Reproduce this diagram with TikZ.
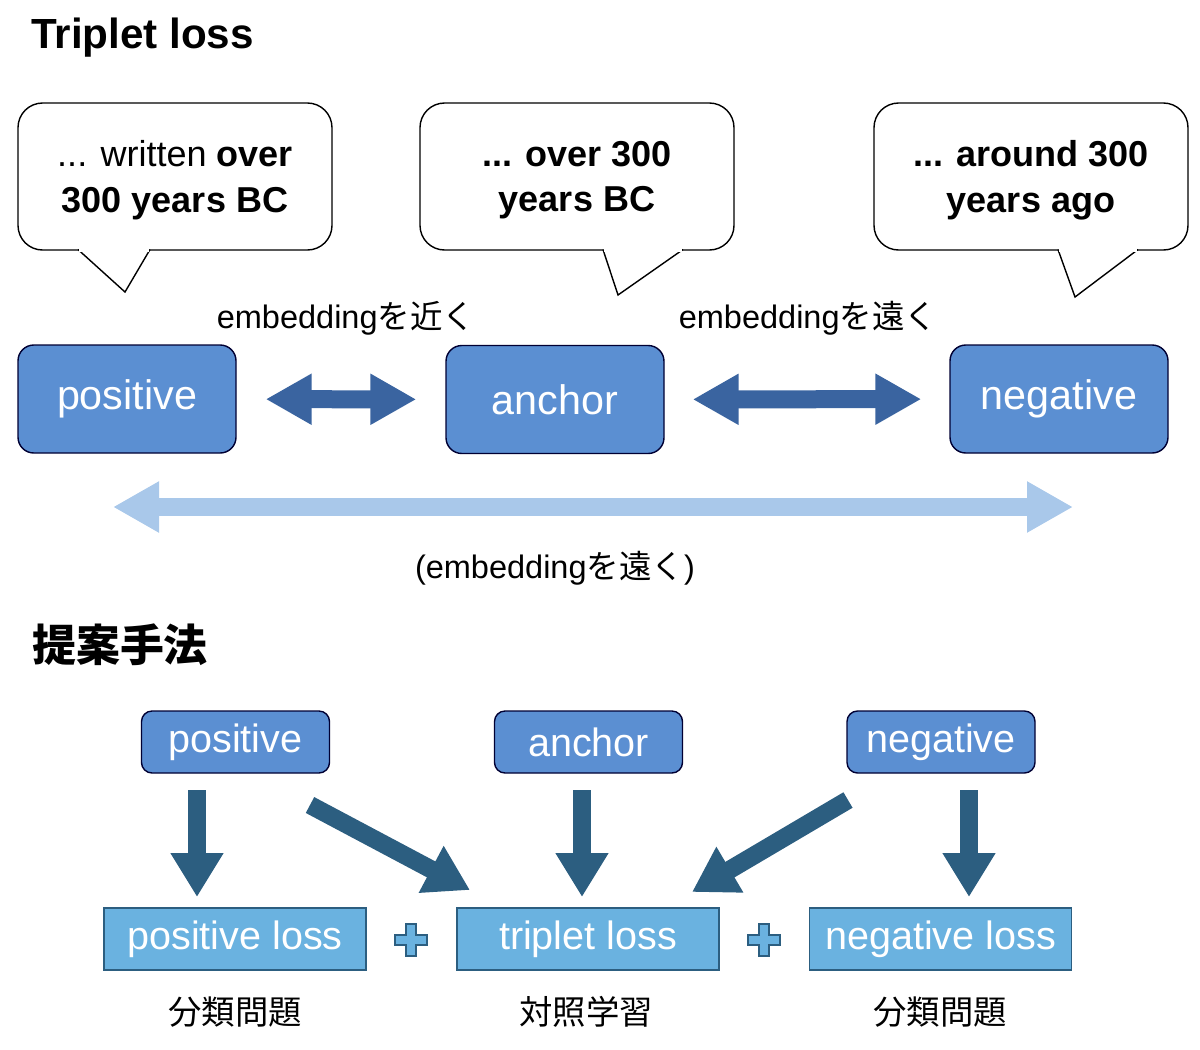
\documentclass[tikz,border=0pt]{standalone}
\usepackage{fontspec}
\setmainfont{Liberation Sans}
\newfontfamily\cjk{Noto Sans CJK JP}
\usetikzlibrary{arrows.meta}
\begin{document}
\begin{tikzpicture}[x=0.02cm,y=-0.02cm,
  bubble/.style={draw=black,line width=0.8pt,fill=white,rounded corners=14pt},
  big/.style={draw=black!80!blue,line width=0.8pt,fill=boxblue,rounded corners=9pt,minimum width=218*0.02cm,minimum height=108*0.02cm,text=white,font=\fontsize{23.5}{26}\selectfont},
  small/.style={draw=black!80!blue,line width=0.8pt,fill=boxblue,rounded corners=6pt,minimum width=188*0.02cm,minimum height=62*0.02cm,text=white,font=\fontsize{22.5}{25}\selectfont},
  loss/.style={draw=lossdark,line width=1pt,fill=lossblue,minimum width=262*0.02cm,minimum height=62*0.02cm,text=white,font=\fontsize{22.5}{25}\selectfont},
  btxt/.style={align=center,font=\fontsize{20.5}{26}\selectfont\bfseries},
  lab/.style={font=\fontsize{18.5}{20}\selectfont},
  dbl/.style={line width=18*0.02cm,draw=arrowblue,{Triangle[width=48*0.02cm,length=46*0.02cm]}-{Triangle[width=48*0.02cm,length=46*0.02cm]}},
  dn/.style={line width=18*0.02cm,draw=lossdark,-{Triangle[width=50*0.02cm,length=44*0.02cm]}},
]
\definecolor{boxblue}{HTML}{5B8FD2}
\definecolor{arrowblue}{HTML}{3A64A0}
\definecolor{lightarrow}{HTML}{A9C8EA}
\definecolor{lossblue}{HTML}{6AB2E0}
\definecolor{lossdark}{HTML}{2C5E80}
\useasboundingbox (0,0) rectangle (1200,1049);

\node[anchor=west,font=\fontsize{24}{30}\selectfont\bfseries] (t1) at (25,38) {Triplet loss};

% bubbles
\draw[bubble] (18,103) rectangle (332,250);
\filldraw[fill=white,draw=black,line width=0.8pt] (78,249.5) -- (125,292) -- (150,249.5);
\fill[white] (79,248) rectangle (149,252);
\draw[bubble] (420,103) rectangle (734,250);
\filldraw[fill=white,draw=black,line width=0.8pt] (603,249.5) -- (618,295) -- (683,249.5);
\fill[white] (604,248) rectangle (682,252);
\draw[bubble] (874,103) rectangle (1188,250);
\filldraw[fill=white,draw=black,line width=0.8pt] (1058,249.5) -- (1075,297) -- (1138,249.5);
\fill[white] (1059,248) rectangle (1137,252);
\node[btxt] (b1) at (175,180) {\mdseries ... written \bfseries over\\300 years BC};
\node[btxt] (b2) at (577,180) {... over 300\\years BC};
\node[btxt] (b3) at (1031,180) {... around 300\\years ago};

% main boxes
\node[big] (pos) at (127,399) {positive};
\node[big] (anc) at (555,399.5) {anchor};
\node[big] (neg) at (1059,399) {negative};
\draw[dbl,shorten <=29*0.02cm,shorten >=29*0.02cm] (pos) -- (anc);
\draw[dbl,shorten <=28*0.02cm,shorten >=28*0.02cm] (anc) -- (neg);
\coordinate (la) at (113,507);
\coordinate (lb) at (1073,507);
\draw[dbl,draw=lightarrow] (la) -- (lb);

\node[lab] (l1) at (346,318) {embedding{\cjk を近く}};
\node[lab] (l2) at (808,318) {embedding{\cjk を遠く}};
\node[lab] (l3) at (555,568) {(embedding{\cjk を遠く})};

\node[anchor=west,font=\fontsize{25}{30}\selectfont\cjk\bfseries] (t2) at (26,645) {提案手法};

\node[small] (sp) at (235.5,742) {positive};
\node[small] (sa) at (588.5,742) {anchor};
\node[small] (sn) at (941,742) {negative};

\node[loss] (lp) at (235,939) {positive loss};
\node[loss] (lt) at (588,939) {triplet loss};
\node[loss] (ln) at (940.5,939) {negative loss};

\coordinate (a1s) at (197,790); \coordinate (a1e) at (197,897);
\coordinate (a2s) at (310,805); \coordinate (a2e) at (470,890);
\coordinate (a3s) at (582,790); \coordinate (a3e) at (582,897);
\coordinate (a4s) at (848,800); \coordinate (a4e) at (692,892);
\coordinate (a5s) at (969,790); \coordinate (a5e) at (969,897);
\draw[dn] (a1s) -- (a1e);
\draw[dn] (a2s) -- (a2e);
\draw[dn] (a3s) -- (a3e);
\draw[dn] (a4s) -- (a4e);
\draw[dn] (a5s) -- (a5e);

% plus signs
\foreach \n/\x in {p1/411,p2/764}{
  \filldraw[fill=lossblue,draw=lossdark,line width=0.8pt]
   (\x-5,924) -- (\x+5,924) -- (\x+5,935) -- (\x+16,935) -- (\x+16,945) -- (\x+5,945) -- (\x+5,956) -- (\x-5,956) -- (\x-5,945) -- (\x-16,945) -- (\x-16,935) -- (\x-5,935) -- cycle;
}

\node[font=\fontsize{19}{20}\selectfont\cjk] (c1) at (235,1012) {分類問題};
\node[font=\fontsize{19}{20}\selectfont\cjk] (c2) at (586,1012) {対照学習};
\node[font=\fontsize{19}{20}\selectfont\cjk] (c3) at (940,1012) {分類問題};
\end{tikzpicture}
\end{document}
